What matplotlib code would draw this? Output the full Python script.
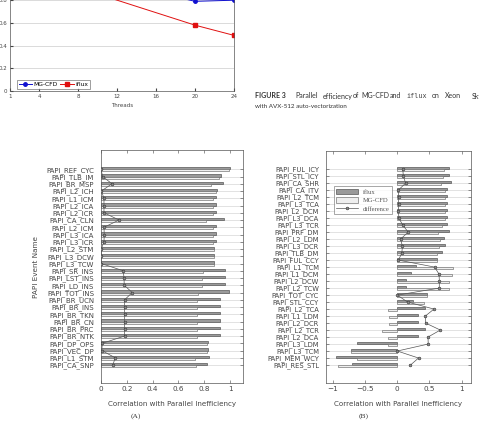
import numpy as np
import matplotlib
matplotlib.use("Agg")
import matplotlib.pyplot as plt

# ---- top chart (cut off at the top of the crop) ----
threads = [1, 2, 4, 8, 10, 20, 24]
eff_mgcfd = [1.0, 1.0, 1.0, 0.99, 0.99, 0.79, 0.80]
eff_iflux = [1.0, 0.98, 0.95, 0.90, 0.855, 0.58, 0.49]
thread_ticks = [1, 4, 8, 12, 16, 20, 24]

# ---- panel A ----
a_events = ["PAPI_REF_CYC", "PAPI_TLB_IM", "PAPI_BR_MSP", "PAPI_L2_ICH", "PAPI_L1_ICM",
            "PAPI_L2_ICA", "PAPI_L2_ICR", "PAPI_CA_CLN", "PAPI_L2_ICM", "PAPI_L3_ICA",
            "PAPI_L3_ICR", "PAPI_L2_STM", "PAPI_L3_DCW", "PAPI_L3_TCW", "PAPI_SR_INS",
            "PAPI_LST_INS", "PAPI_LD_INS", "PAPI_TOT_INS", "PAPI_BR_UCN", "PAPI_BR_INS",
            "PAPI_BR_TKN", "PAPI_BR_CN", "PAPI_BR_PRC", "PAPI_BR_NTK", "PAPI_DP_OPS",
            "PAPI_VEC_DP", "PAPI_L1_STM", "PAPI_CA_SNP"]
a_iflux = [1.0, 0.928, 0.946, 0.899, 0.894, 0.894, 0.894, 0.956, 0.894, 0.894,
           0.894, 0.875, 0.875, 0.875, 0.961, 0.961, 0.961, 0.99, 0.925, 0.922,
           0.922, 0.922, 0.922, 0.922, 0.829, 0.831, 0.838, 0.822]
a_mgcfd = [0.995, 0.912, 0.855, 0.894, 0.871, 0.871, 0.871, 0.81, 0.871, 0.871,
           0.871, 0.873, 0.873, 0.873, 0.791, 0.785, 0.78, 0.75, 0.744, 0.742,
           0.742, 0.742, 0.742, 0.742, 0.822, 0.822, 0.727, 0.733]
a_diff = [0.0, 0.013, 0.085, 0.003, 0.023, 0.023, 0.023, 0.14, 0.023, 0.025,
          0.023, 0.002, 0.002, 0.002, 0.173, 0.178, 0.18, 0.242, 0.183, 0.183,
          0.183, 0.183, 0.183, 0.183, 0.01, 0.006, 0.11, 0.092]

# ---- panel B ----
b_events = ["PAPI_FUL_ICY", "PAPI_STL_ICY", "PAPI_CA_SHR", "PAPI_CA_ITV", "PAPI_L2_TCM",
            "PAPI_L3_TCA", "PAPI_L2_DCM", "PAPI_L3_DCA", "PAPI_L3_TCR", "PAPI_PRF_DM",
            "PAPI_L2_LDM", "PAPI_L3_DCR", "PAPI_TLB_DM", "PAPI_FUL_CCY", "PAPI_L1_TCM",
            "PAPI_L1_DCM", "PAPI_L2_DCW", "PAPI_L2_TCW", "PAPI_TOT_CYC", "PAPI_STL_CCY",
            "PAPI_L2_TCA", "PAPI_L1_LDM", "PAPI_L2_DCR", "PAPI_L2_TCR", "PAPI_L2_DCA",
            "PAPI_L3_LDM", "PAPI_L3_TCM", "PAPI_MEM_WCY", "PAPI_RES_STL"]
b_iflux = [0.808, 0.81, 0.829, 0.767, 0.77, 0.77, 0.767, 0.767, 0.772, 0.8,
           0.72, 0.736, 0.7, 0.62, 0.29, 0.21, 0.13, 0.13, 0.456, 0.25,
           0.43, 0.315, 0.315, 0.425, 0.322, -0.63, -0.72, -0.95, -0.71]
b_mgcfd = [0.72, 0.713, 0.684, 0.745, 0.745, 0.748, 0.748, 0.74, 0.689, 0.625,
           0.66, 0.648, 0.62, 0.612, 0.87, 0.855, 0.8, 0.8, 0.455, 0.415,
           -0.14, -0.125, -0.13, -0.245, -0.15, -0.15, -0.72, -0.62, -0.915]
b_diff = [0.085, 0.094, 0.13, 0.015, 0.02, 0.02, 0.018, 0.025, 0.085, 0.17,
          0.05, 0.08, 0.07, 0.018, 0.58, 0.648, 0.653, 0.652, 0.0, 0.16,
          0.57, 0.435, 0.44, 0.668, 0.477, 0.48, 0.0, 0.33, 0.205]

W, H = 479, 425
fig = plt.figure(figsize=(W / 100, H / 100), dpi=100)


def box(left, top, right, bottom):
    # pixel box -> figure fraction
    return [left / W, 1 - bottom / H, (right - left) / W, (bottom - top) / H]


# top line chart, its upper part lies outside the figure
ax0 = fig.add_axes(box(10, 91 - 1.1 * 113.5, 234, 91))
ax0.plot(threads, eff_mgcfd, color="#1010d0", marker="o", markersize=2.5, lw=0.7, label="MG-CFD")
ax0.plot(threads, eff_iflux, color="#e01010", marker="s", markersize=2.5, lw=0.7, label="iflux")
ax0.set_xlim(1, 24)
ax0.set_ylim(0, 1.1)
ax0.set_xticks(thread_ticks)
ax0.set_yticks([0, 0.2, 0.4, 0.6, 0.8, 1.0])
ax0.set_yticklabels(["0", "0.2", "0.4", "0.6", "0.8", "1"])
ax0.yaxis.grid(True, color="#cccccc", lw=0.5)
ax0.set_axisbelow(True)
ax0.tick_params(direction="in", length=2, labelsize=4, pad=2, colors="#444444")
ax0.set_xlabel("Threads", fontsize=4, labelpad=3, color="#444444")
for s in ax0.spines.values():
    s.set_color("#555555")
    s.set_linewidth(0.5)
leg0 = ax0.legend(loc="lower left", bbox_to_anchor=(0.03, 0.015), ncol=2, fontsize=4.3,
                  frameon=True, fancybox=False, edgecolor="#555555", handlelength=2.2,
                  columnspacing=0.4, handletextpad=0.3, borderpad=0.35, borderaxespad=0)
leg0.get_frame().set_linewidth(0.5)

# caption (first line is justified, so words sit at their own spots)
cap = dict(fontsize=5.0, family="Lato", color="#333333", va="center")
fig.text(255 / W, 1 - 96 / H, "FIGURE 3", weight="bold", **cap)
line1 = [("Parallel", 295), ("efficiency", 322.5), ("of", 352.5), ("MG-CFD", 361), ("and", 390),
         ("on", 431.7), ("Xeon", 445), ("Skylake", 471.7)]
for word, xp in line1:
    fig.text(xp / W, 1 - 96 / H, word, **cap)
fig.text(406.5 / W, 1 - 96 / H, "iflux", fontsize=4.9, family="DejaVu Sans Mono",
         color="#444444", va="center")
fig.text(255 / W, 1 - 107 / H, "with AVX-512 auto-vectorization", fontsize=4.5,
         family="Lato", color="#333333", va="center")

h = 0.3


def panel(ax, events, iflux, mgcfd, diff, xlim, ylim, xticks, xticklabels, lab_size):
    rows = np.arange(len(events))
    ax.yaxis.grid(True, color="#d6d6d6", lw=0.5)
    ax.set_axisbelow(True)
    ax.barh(rows - h, iflux, height=h, align="edge", color="#9a9a9a",
            edgecolor="#4a4a4a", lw=0.45, label="iflux", zorder=2)
    ax.barh(rows, mgcfd, height=h, align="edge", color="#efefef",
            edgecolor="#6a6a6a", lw=0.45, label="MG-CFD", zorder=2)
    ax.plot(diff, rows, color="#555555", lw=0.5, marker="o", markersize=2,
            mfc="#8a8a8a", mec="#333333", mew=0.4, label="difference", zorder=3)
    ax.set_xlim(*xlim)
    ax.set_ylim(*ylim)
    ax.set_yticks(rows)
    ax.set_yticklabels(events)
    ax.set_xticks(xticks)
    ax.set_xticklabels(xticklabels)
    ax.tick_params(axis="y", direction="in", length=2, labelsize=lab_size, pad=5,
                   right=True, colors="#444444", width=0.4)
    ax.tick_params(axis="x", direction="in", length=2, labelsize=5.2, pad=2.5,
                   top=True, colors="#444444", width=0.4)
    ax.set_xlabel("Correlation with Parallel Inefficiency", fontsize=5.1,
                  labelpad=6, color="#444444")
    for s in ax.spines.values():
        s.set_color("#555555")
        s.set_linewidth(0.5)


axA = fig.add_axes(box(101, 150, 243, 383))
panel(axA, a_events, a_iflux, a_mgcfd, a_diff, (0, 1.1), (29.48, -2.66),
      [0, 0.2, 0.4, 0.6, 0.8, 1.0], ["0", "0.2", "0.4", "0.6", "0.8", "1"], 5.0)
axA.set_ylabel("PAPI Event Name", fontsize=5.2, labelpad=5, color="#444444")

axB = fig.add_axes(box(326, 150.7, 470.7, 383))
panel(axB, b_events, b_iflux, b_mgcfd, b_diff, (-1.107, 1.14), (30.57, -2.64),
      [-1, -0.5, 0, 0.5, 1], ["\u22121", "\u22120.5", "0", "0.5", "1"], 4.9)
handles, labels = axB.get_legend_handles_labels()
order = [labels.index("iflux"), labels.index("MG-CFD"), labels.index("difference")]
legB = axB.legend([handles[i] for i in order], [labels[i] for i in order],
                  loc="upper left", bbox_to_anchor=((333.7 - 326) / 144.7, (383 - 186) / 232.3),
                  prop={"family": "Liberation Serif", "size": 4.8}, frameon=True,
                  fancybox=False, edgecolor="#666666", handlelength=3.2, handleheight=0.9,
                  labelspacing=0.35, handletextpad=0.8, borderpad=0.4, borderaxespad=0)
legB.get_frame().set_linewidth(0.5)
for t in legB.get_texts():
    t.set_color("#555555")

fig.text(136 / W, 1 - 416 / H, "(A)", fontsize=5.4, family="Liberation Serif",
         color="#333333", ha="center", va="center")
fig.text(364 / W, 1 - 416 / H, "(B)", fontsize=5.4, family="Liberation Serif",
         color="#333333", ha="center", va="center")

fig.savefig("out.png", dpi=100)
